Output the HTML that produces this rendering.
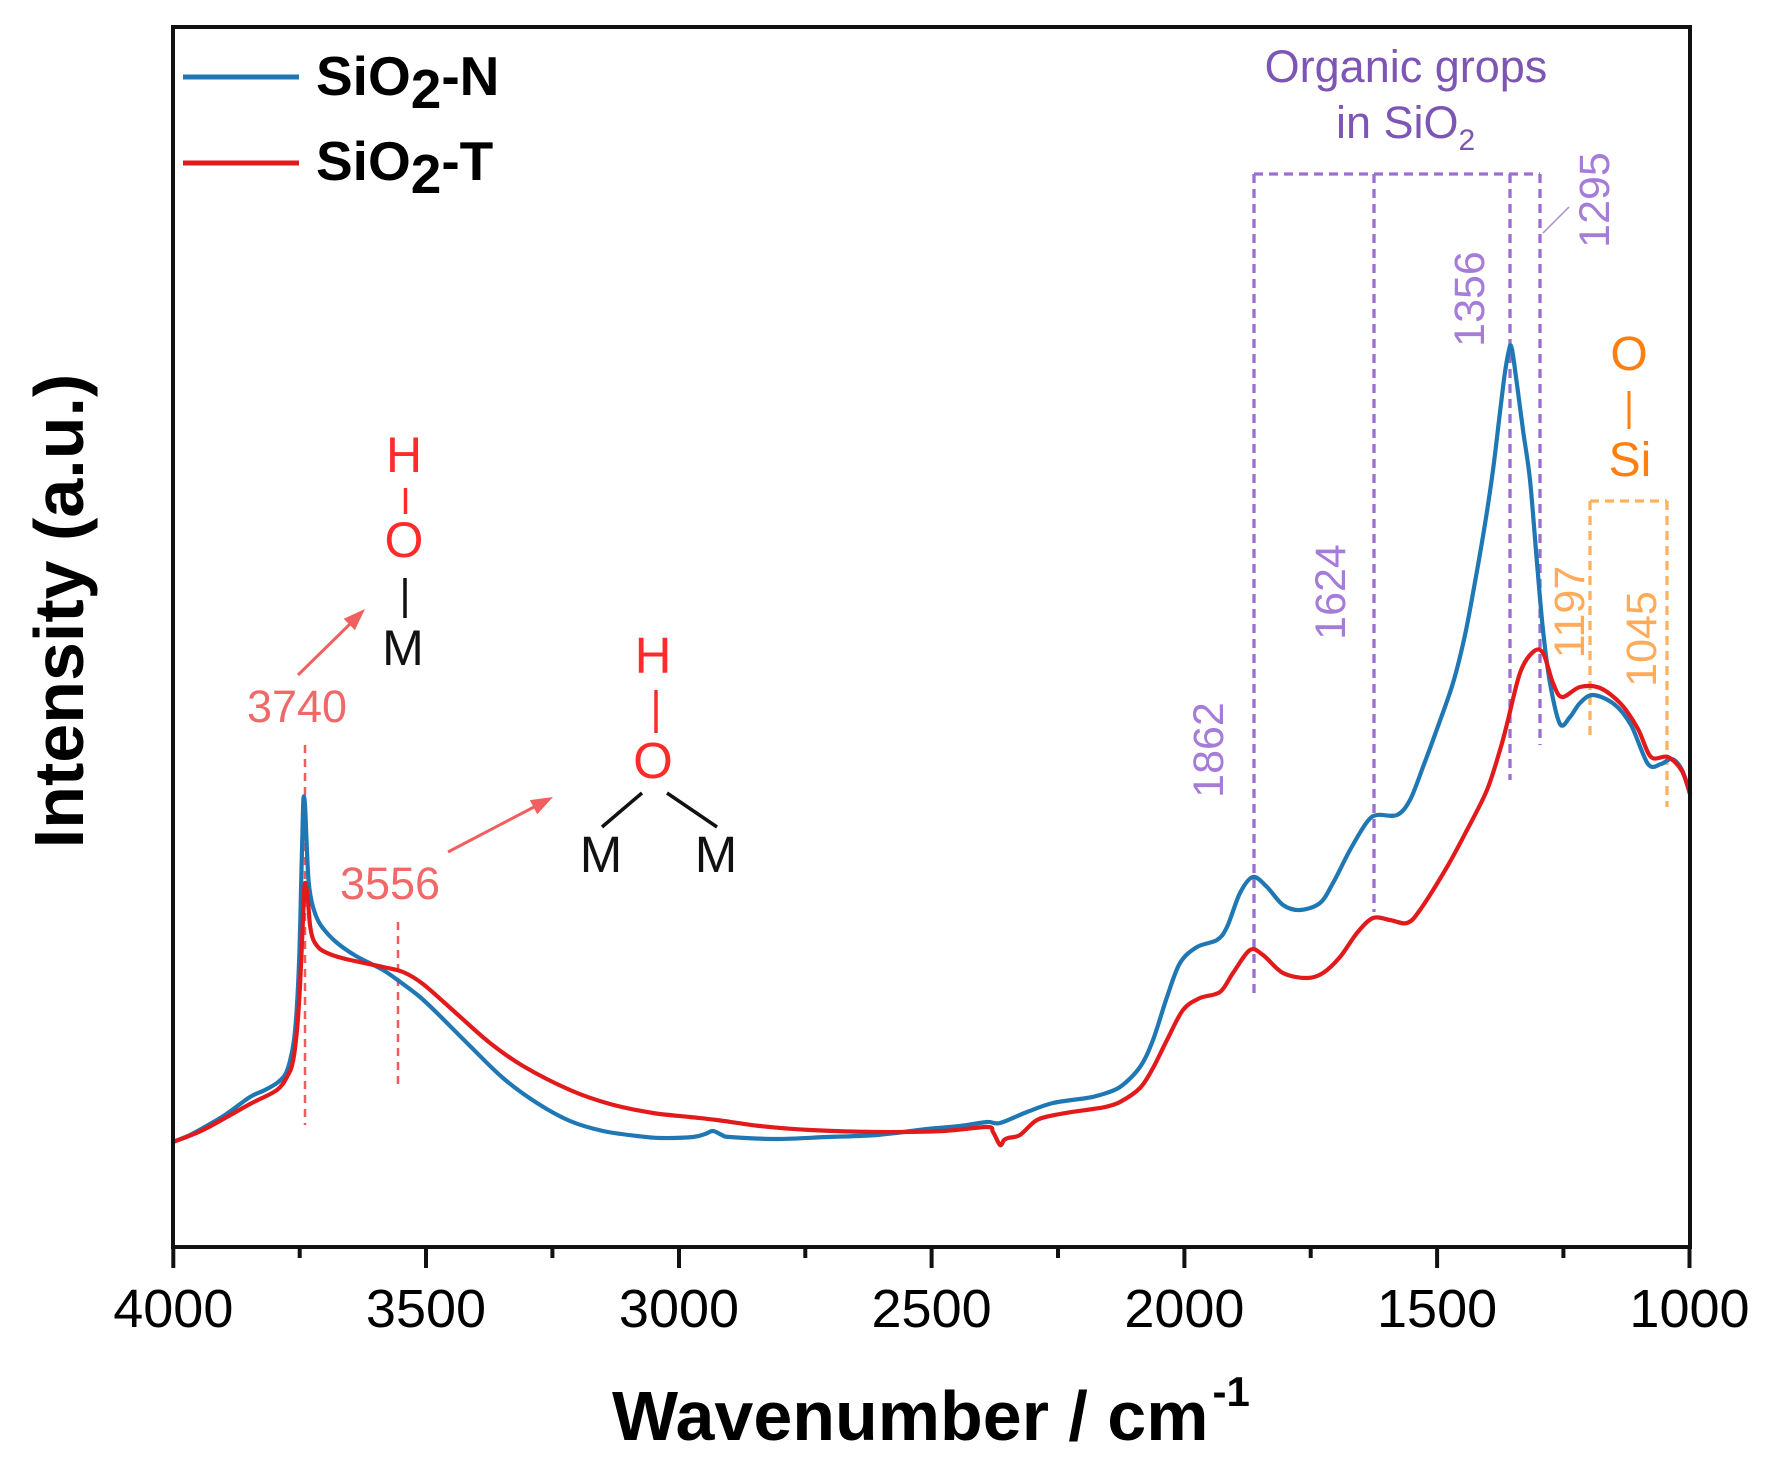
<!DOCTYPE html>
<html>
<head>
<meta charset="utf-8">
<style>
html,body{margin:0;padding:0;background:#fff;}
svg{display:block;}
text{font-family:"Liberation Sans",Arial,sans-serif;}
</style>
</head>
<body>
<svg id="chart" width="1773" height="1473" viewBox="0 0 1773 1473" xmlns="http://www.w3.org/2000/svg">
<rect x="0" y="0" width="1773" height="1473" fill="#fff"/>

<!-- Purple dashed guide lines -->
<g stroke="#9b6fd0" stroke-width="3.3" stroke-dasharray="9,6" fill="none">
  <line x1="1254" y1="174" x2="1254" y2="995"/>
  <line x1="1374" y1="174" x2="1374" y2="912"/>
  <line x1="1510" y1="174" x2="1510" y2="780"/>
  <line x1="1540" y1="174" x2="1540" y2="745"/>
  <line x1="1254" y1="174" x2="1540" y2="174"/>
</g>
<line x1="1569" y1="207" x2="1543" y2="233" stroke="#a98bc9" stroke-width="1.5"/>

<!-- Orange dashed box -->
<g stroke="#ffb25e" stroke-width="3.3" stroke-dasharray="9,6" fill="none">
  <line x1="1590" y1="501" x2="1590" y2="736"/>
  <line x1="1667" y1="501" x2="1667" y2="807"/>
  <line x1="1590" y1="501" x2="1667" y2="501"/>
</g>

<!-- Red dashed lines -->
<g stroke="#f05a5a" stroke-width="2.5" stroke-dasharray="8,6" fill="none">
  <line x1="305" y1="745" x2="305" y2="1125"/>
  <line x1="398" y1="922" x2="398" y2="1084"/>
</g>

<!-- Curves -->
<polyline class="curve" fill="none" stroke="#1f77b4" stroke-width="4.2" stroke-linejoin="round" stroke-linecap="round" points="173,1142 190,1135 203,1128 225,1115 250,1097 265,1090 277,1083 285,1075 290,1061 294,1040 297,1005 299.5,950 301,890 302.5,830 303.5,798 305,805 306.5,840 308.5,880 311.5,901 316,916 322,927 336,942 356,956 383,970 403,984 420,997 437,1013 470,1046 503,1078 537,1103 570,1121 603,1131 637,1136 660,1138 693,1137 705,1134 713,1131 722,1135 730,1137 777,1139 827,1137 877,1135 927,1129 960,1126 987,1122 1000,1123 1027,1112 1053,1103 1087,1098 1100,1095 1120,1087 1140,1067 1153,1040 1167,997 1180,963 1197,947 1217,940 1227,927 1240,893 1253,877 1267,887 1283,905 1300,910 1320,903 1333,883 1350,850 1367,822 1377,815 1397,815 1410,800 1423,767 1437,729 1453,683 1465,635 1475,582 1485,524 1493,470 1500,412 1505,372 1509,350 1511,346 1514,362 1523,430 1530,480 1537,563 1543,630 1550,683 1560,724 1570,717 1580,703 1593,695 1614,704 1631,725 1648,764 1661,764 1672,759 1682,770 1690,794"/>
<polyline class="curve" fill="none" stroke="#e31a1c" stroke-width="4.2" stroke-linejoin="round" stroke-linecap="round" points="173,1142 203,1130 250,1104 277,1090 288,1075 293,1061 297,1030 300,986 302.5,930 304.5,887 306,886 308,901 310,925 313,939 318,947 323,951 335,956 350,960 383,967 403,972 423,984 457,1014 490,1043 523,1066 570,1090 610,1104 653,1113 690,1117 717,1120 760,1126 810,1130 877,1132 943,1131 987,1127 993,1132 1000,1145 1004,1140 1008,1138 1020,1135 1037,1120 1060,1114 1093,1109 1105,1107 1120,1102 1140,1088 1153,1068 1167,1040 1183,1010 1200,998 1220,992 1233,973 1250,950 1263,955 1283,973 1307,978 1323,973 1340,957 1357,933 1373,918 1390,920 1407,923 1420,910 1447,867 1467,830 1487,790 1500,750 1507,724 1520,673 1533,652 1543,653 1553,683 1562,697 1580,687 1600,688 1621,704 1638,729 1651,757 1668,757 1682,771 1690,794"/>

<!-- Frame -->
<rect x="173" y="27" width="1517" height="1220" fill="none" stroke="#111" stroke-width="4"/>

<!-- Ticks -->
<g stroke="#111" stroke-width="4">
  <line x1="173.3" y1="1247" x2="173.3" y2="1268"/>
  <line x1="426" y1="1247" x2="426" y2="1268"/>
  <line x1="679" y1="1247" x2="679" y2="1268"/>
  <line x1="931.6" y1="1247" x2="931.6" y2="1268"/>
  <line x1="1184.4" y1="1247" x2="1184.4" y2="1268"/>
  <line x1="1437.1" y1="1247" x2="1437.1" y2="1268"/>
  <line x1="1689.5" y1="1247" x2="1689.5" y2="1268"/>
  <line x1="299.7" y1="1247" x2="299.7" y2="1258"/>
  <line x1="552.4" y1="1247" x2="552.4" y2="1258"/>
  <line x1="805.3" y1="1247" x2="805.3" y2="1258"/>
  <line x1="1058" y1="1247" x2="1058" y2="1258"/>
  <line x1="1310.7" y1="1247" x2="1310.7" y2="1258"/>
  <line x1="1563.4" y1="1247" x2="1563.4" y2="1258"/>
</g>

<!-- Tick labels -->
<g font-size="54" fill="#000" text-anchor="middle">
  <text x="173.3" y="1327">4000</text>
  <text x="426" y="1327">3500</text>
  <text x="679" y="1327">3000</text>
  <text x="931.6" y="1327">2500</text>
  <text x="1184.4" y="1327">2000</text>
  <text x="1437.1" y="1327">1500</text>
  <text x="1689.5" y="1327">1000</text>
</g>

<!-- Axis labels -->
<text x="612" y="1440" font-size="70" font-weight="bold" fill="#000">Wavenumber / cm<tspan font-size="42" dy="-34" dx="4">-1</tspan></text>
<text transform="translate(83,611) rotate(-90)" x="0" y="0" font-size="70" font-weight="bold" fill="#000" text-anchor="middle">Intensity (a.u.)</text>

<!-- Legend -->
<line x1="183" y1="77" x2="299" y2="77" stroke="#1f77b4" stroke-width="5"/>
<line x1="183" y1="163" x2="299" y2="163" stroke="#e31a1c" stroke-width="5"/>
<text x="316" y="95" font-size="55" font-weight="bold" fill="#000">SiO<tspan dy="13">2</tspan><tspan dy="-13">-N</tspan></text>
<text x="316" y="180" font-size="55" font-weight="bold" fill="#000">SiO<tspan dy="13">2</tspan><tspan dy="-13">-T</tspan></text>

<!-- Organic groups annotation -->
<text x="1406" y="82" font-size="45" fill="#7d55b3" text-anchor="middle">Organic grops</text>
<text x="1336" y="138" font-size="45" fill="#7d55b3">in SiO<tspan font-size="30" dy="12">2</tspan></text>

<g font-size="43" fill="#a57dd8" text-anchor="middle">
  <text transform="translate(1609,200) rotate(-90)">1295</text>
  <text transform="translate(1484,299) rotate(-90)">1356</text>
  <text transform="translate(1345,592) rotate(-90)">1624</text>
  <text transform="translate(1223,750) rotate(-90)">1862</text>
</g>
<g font-size="43" fill="#ffab5a" text-anchor="middle">
  <text transform="translate(1584,612) rotate(-90)">1197</text>
  <text transform="translate(1656,639) rotate(-90)">1045</text>
</g>

<!-- Si-O -->
<text x="1629" y="370" font-size="48" fill="#ff7f0e" text-anchor="middle">O</text>
<line x1="1629" y1="391" x2="1629" y2="429" stroke="#ff7f0e" stroke-width="3"/>
<text x="1630" y="476" font-size="48" fill="#ff7f0e" text-anchor="middle">Si</text>

<!-- 3740 annotation -->
<text x="297" y="722" font-size="45" fill="#f06868" text-anchor="middle">3740</text>
<line x1="298" y1="675" x2="351" y2="623" stroke="#f06060" stroke-width="3"/>
<polygon points="365,609 354.9,630.1 343.7,618.7" fill="#f06060"/>
<text x="404" y="472" font-size="50" fill="#ff2a2a" text-anchor="middle">H</text>
<line x1="405.5" y1="488" x2="405.5" y2="514" stroke="#ff2a2a" stroke-width="3.5"/>
<text x="404" y="557" font-size="50" fill="#ff2a2a" text-anchor="middle">O</text>
<line x1="405" y1="578" x2="405" y2="618" stroke="#111" stroke-width="3.5"/>
<text x="403" y="665" font-size="50" fill="#111" text-anchor="middle">M</text>

<!-- 3556 annotation -->
<text x="390" y="899" font-size="45" fill="#f06868" text-anchor="middle">3556</text>
<line x1="448" y1="852" x2="534" y2="807" stroke="#f06060" stroke-width="3"/>
<polygon points="553,797 537.2,814.3 529.8,800.1" fill="#f06060"/>
<text x="653" y="673" font-size="51" fill="#ff2a2a" text-anchor="middle">H</text>
<line x1="656" y1="690" x2="656" y2="733" stroke="#ff2a2a" stroke-width="3.5"/>
<text x="653" y="778" font-size="51" fill="#ff2a2a" text-anchor="middle">O</text>
<line x1="642" y1="793" x2="602" y2="827" stroke="#111" stroke-width="3.5"/>
<line x1="667" y1="793" x2="717" y2="827" stroke="#111" stroke-width="3.5"/>
<text x="601" y="872" font-size="51" fill="#111" text-anchor="middle">M</text>
<text x="716" y="872" font-size="51" fill="#111" text-anchor="middle">M</text>
</svg>
<script>
(function(){
  var NS="http://www.w3.org/2000/svg";
  var pls=document.querySelectorAll("polyline.curve");
  for(var k=0;k<pls.length;k++){
    var pl=pls[k];
    var raw=pl.getAttribute("points").trim().split(/\s+/);
    var p=[];
    for(var i=0;i<raw.length;i++){var a=raw[i].split(",");p.push([+a[0],+a[1]]);}
    var d="M"+p[0][0]+","+p[0][1];
    var t=0.16;
    for(var i=0;i<p.length-1;i++){
      var p0=p[i>0?i-1:i],p1=p[i],p2=p[i+1],p3=p[i+2<p.length?i+2:i+1];
      var c1x=p1[0]+(p2[0]-p0[0])*t,c1y=p1[1]+(p2[1]-p0[1])*t;
      var c2x=p2[0]-(p3[0]-p1[0])*t,c2y=p2[1]-(p3[1]-p1[1])*t;
      d+=" C"+c1x.toFixed(2)+","+c1y.toFixed(2)+" "+c2x.toFixed(2)+","+c2y.toFixed(2)+" "+p2[0]+","+p2[1];
    }
    var path=document.createElementNS(NS,"path");
    path.setAttribute("d",d);
    path.setAttribute("fill","none");
    path.setAttribute("stroke",pl.getAttribute("stroke"));
    path.setAttribute("stroke-width",pl.getAttribute("stroke-width"));
    path.setAttribute("stroke-linejoin","round");
    path.setAttribute("stroke-linecap","round");
    pl.parentNode.replaceChild(path,pl);
  }
})();
</script>
</body>
</html>
